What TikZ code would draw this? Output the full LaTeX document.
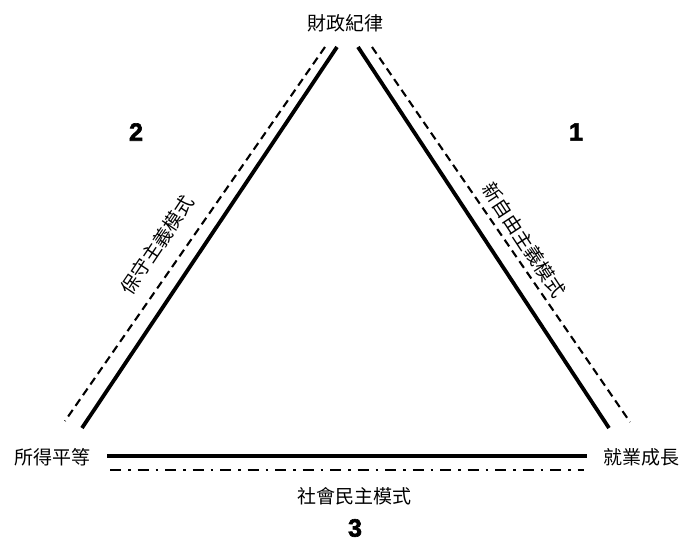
\documentclass[tikz,border=0pt]{standalone}
\usepackage{fontspec}
\newfontfamily\cjk{Noto Sans CJK TC}
\newfontfamily\numfont[FakeBold=2.5]{Liberation Sans Bold}
\begin{document}
\begin{tikzpicture}[x=1pt,y=-1pt,
  lbl/.style={font=\cjk\fontsize{19}{21}\selectfont, inner sep=0pt},
  num/.style={font=\numfont\fontsize{25}{26}\selectfont, inner sep=0pt},
  solidline/.style={line width=3.8pt},
  dashline/.style={line width=2.1pt, dash pattern=on 8pt off 5pt},
  dashdotline/.style={line width=2.1pt, dash pattern=on 11pt off 7pt on 2.5pt off 7pt}]
\useasboundingbox (0,0) rectangle (685,541);
\fill[white] (0,0) rectangle (685,541);
% labels
\node[lbl] (top) at (345,23) {財政紀律};
\node[lbl] (left) at (52,457) {所得平等};
\node[lbl] (right) at (641,457) {就業成長};
\node[lbl] (bottom) at (354,496) {社會民主模式};
\node[num] (n3) at (355,528) {3};
\node[num] (n2) at (136,132) {2};
\node[num] (n1) at (576,132) {1};
\node[lbl, rotate=56.2] (cons) at (157,245) {保守主義模式};
\node[lbl, rotate=-56.7] (neo) at (524,240) {新自由主義模式};
% line endpoints
\coordinate (lsA) at (337,47);
\coordinate (lsB) at (82,428);
\coordinate (ldA) at (325,47);
\coordinate (ldB) at (65,421);
\coordinate (rsA) at (358,47);
\coordinate (rsB) at (609,428);
\coordinate (rdA) at (372,47);
\coordinate (rdB) at (630,422);
\coordinate (bsA) at (107,456);
\coordinate (bsB) at (587,456);
\coordinate (bdA) at (110,470);
\coordinate (bdB) at (584,470);
\draw[solidline] (lsA) -- (lsB);
\draw[dashline] (ldA) -- (ldB);
\draw[solidline] (rsA) -- (rsB);
\draw[dashline] (rdA) -- (rdB);
\draw[solidline] (bsA) -- (bsB);
\draw[dashdotline] (bdA) -- (bdB);
\end{tikzpicture}
\end{document}
